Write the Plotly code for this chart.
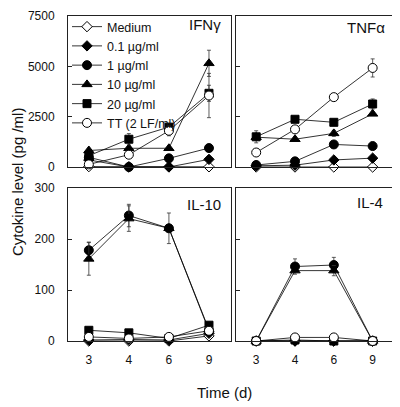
import plotly.graph_objects as go

days = ["3", "4", "6", "9"]
series_names = ["Medium", "0.1 µg/ml", "1 µg/ml", "10 µg/ml", "20 µg/ml", "TT (2 LF/ml)"]

# IFN-gamma (pg/ml)
ifn_medium = [20, 10, 10, 10]
ifn_01 = [350, 0, 0, 380]
ifn_1 = [480, 0, 430, 940]
ifn_10 = [820, 930, 930, 5150]
ifn_20 = [560, 1380, 1980, 3660]
ifn_tt = [130, 610, 1800, 3550]
ifn_err_10 = [0, 0, 0, 650]
ifn_err_20 = [0, 280, 0, 400]
ifn_err_tt = [0, 0, 250, 1100]

# TNF-alpha (pg/ml)
tnf_medium = [0, 0, 0, 0]
tnf_01 = [60, 90, 350, 440]
tnf_1 = [100, 280, 1120, 1040]
tnf_10 = [1480, 1380, 1670, 2640]
tnf_20 = [1500, 2370, 2220, 3130]
tnf_tt = [720, 1870, 3470, 4920]
tnf_err_10 = [0, 0, 150, 0]
tnf_err_20 = [300, 0, 0, 250]
tnf_err_tt = [0, 0, 0, 450]

# IL-10 (pg/ml)
il10_medium = [0, 0, 0, 10]
il10_01 = [2, 3, 2, 15]
il10_1 = [178, 246, 221, 20]
il10_10 = [161, 240, 221, 22]
il10_20 = [21, 16, 5, 31]
il10_tt = [8, 5, 8, 20]
il10_err_1 = [16, 22, 30, 0]
il10_err_10 = [32, 25, 0, 0]

# IL-4 (pg/ml)
il4_medium = [0, 0, 0, 0]
il4_01 = [0, 0, 0, 0]
il4_1 = [0, 146, 149, 0]
il4_10 = [0, 138, 138, 0]
il4_20 = [0, 2, 0, 0]
il4_tt = [0, 7, 7, 0]
il4_err_1 = [0, 15, 15, 0]
il4_err_10 = [0, 0, 10, 0]

panel_labels = ["IFNγ", "TNFα", "IL-10", "IL-4"]

symbols = ["diamond", "diamond", "circle", "triangle-up", "square", "circle"]
fills = ["white", "black", "black", "black", "black", "white"]
sizes = [8, 8, 9, 9, 8, 9]

panels = [
    ([ifn_medium, ifn_01, ifn_1, ifn_10, ifn_20, ifn_tt],
     [None, None, None, ifn_err_10, ifn_err_20, ifn_err_tt], "x", "y"),
    ([tnf_medium, tnf_01, tnf_1, tnf_10, tnf_20, tnf_tt],
     [None, None, None, tnf_err_10, tnf_err_20, tnf_err_tt], "x2", "y2"),
    ([il10_medium, il10_01, il10_1, il10_10, il10_20, il10_tt],
     [None, None, il10_err_1, il10_err_10, None, None], "x3", "y3"),
    ([il4_medium, il4_01, il4_1, il4_10, il4_20, il4_tt],
     [None, None, il4_err_1, il4_err_10, None, None], "x4", "y4"),
]

W, H, OFF = 400, 407, 8  # page body margin offsets the figure by 8px


def fx(p):
    return (p - OFF) / W


def fy(p):
    return 1 - (p - OFF) / H


FONT = "Liberation Sans, Arial, sans-serif"
fig = go.Figure()
for pi, (vals, errs, xa, ya) in enumerate(panels):
    for si, name in enumerate(series_names):
        err = errs[si]
        fig.add_trace(go.Scatter(
            x=days, y=vals[si], xaxis=xa, yaxis=ya, name=name,
            mode="lines+markers", showlegend=(pi == 0), cliponaxis=False,
            line=dict(color="black", width=0.8),
            marker=dict(symbol=symbols[si], size=sizes[si], color=fills[si],
                        line=dict(color="black", width=1)),
            error_y=(dict(type="data", array=err, visible=True, color="#333",
                          thickness=0.8, width=2) if err is not None
                     else dict(visible=False)),
        ))

xdom_l = [fx(68), fx(231)]
xdom_r = [fx(236), fx(394)]
ydom_t = [fy(167), fy(16)]
ydom_b = [fy(341), fy(188)]


def xax(dom, anchor, showlabels):
    return dict(domain=dom, anchor=anchor, type="category",
                categoryorder="array", categoryarray=days, automargin=False,
                range=[-0.52, 3.55], showline=True, mirror=True,
                linecolor="#222", linewidth=1, showgrid=False, zeroline=False,
                ticks="", showticklabels=showlabels, ticklabelstandoff=8,
                tickfont=dict(family=FONT, size=12, color="#111"))


def yax(dom, anchor, rng, tv, showlabels):
    return dict(domain=dom, anchor=anchor, range=rng, tickvals=tv,
                automargin=False, ticklabeloverflow="allow",
                showline=True, mirror=True, linecolor="#222", linewidth=1,
                showgrid=False, zeroline=False, ticks="inside", ticklen=4,
                tickcolor="#222", showticklabels=showlabels,
                ticklabelstandoff=10,
                tickfont=dict(family=FONT, size=12, color="#111"))


fig.update_layout(
    template="none",
    width=W, height=H, autosize=False,
    margin=dict(l=0, r=0, t=0, b=0, pad=0),
    paper_bgcolor="white", plot_bgcolor="white",
    font=dict(family=FONT, color="#111"),
    xaxis=xax(xdom_l, "y", False),
    xaxis2=xax(xdom_r, "y2", False),
    xaxis3=xax(xdom_l, "y3", True),
    xaxis4=xax(xdom_r, "y4", True),
    yaxis=yax(ydom_t, "x", [0, 7500], [0, 2500, 5000, 7500], True),
    yaxis2=yax(ydom_t, "x2", [0, 7500], [0, 2500, 5000, 7500], False),
    yaxis3=yax(ydom_b, "x3", [0, 300], [0, 100, 200, 300], True),
    yaxis4=yax(ydom_b, "x4", [0, 300], [0, 100, 200, 300], False),
    legend=dict(x=fx(67), y=fy(12), xanchor="left", yanchor="top",
                bgcolor="rgba(0,0,0,0)", font=dict(family=FONT, size=12.5),
                itemwidth=30, tracegroupgap=0),
    showlegend=True,
)

label_pos = [(223, 25), (387, 27), (223, 204), (385, 202)]
for lab, (px, py) in zip(panel_labels, label_pos):
    fig.add_annotation(text=lab, xref="paper", yref="paper",
                       x=fx(px), y=fy(py), xanchor="right",
                       yanchor="middle", showarrow=False,
                       font=dict(family=FONT, size=15, color="#111"))

fig.add_annotation(text="Cytokine level (pg /ml)", xref="paper", yref="paper",
                   x=fx(17), y=fy(182), textangle=-90,
                   showarrow=False, xanchor="center", yanchor="middle",
                   font=dict(family=FONT, size=15, color="#111"))
fig.add_annotation(text="Time (d)", xref="paper", yref="paper",
                   x=fx(224), y=fy(392), showarrow=False,
                   xanchor="center", yanchor="middle",
                   font=dict(family=FONT, size=15, color="#111"))

fig.write_html("out.html")
